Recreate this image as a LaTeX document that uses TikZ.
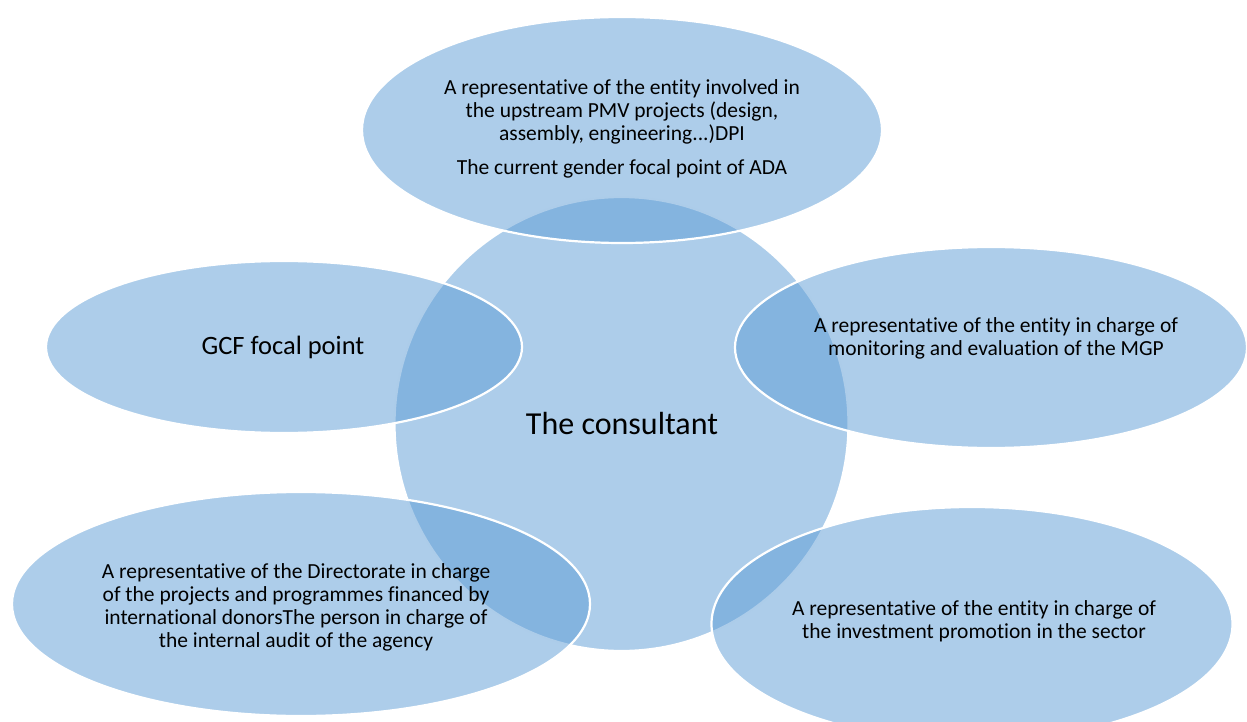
\documentclass[tikz,border=0pt]{standalone}
\usepackage{fontspec}
\setmainfont{Carlito}[Ligatures=NoCommon]
\definecolor{blobblue}{RGB}{91,155,213}
\tikzset{
  blob/.style={ellipse, draw=white, line width=2.2pt, fill=blobblue, fill opacity=0.5, draw opacity=1, inner sep=0pt},
  smalltxt/.style={align=center, text=black, font=\fontsize{21.5}{23}\selectfont, inner sep=0pt},
}
\usetikzlibrary{shapes.geometric}
\begin{document}
\begin{tikzpicture}[x=1pt,y=-1pt]
\useasboundingbox (0,0) rectangle (1247,722);
\clip (0,0) rectangle (1247,722);
\node[blob, circle, minimum size=454pt] (cons) at (621.5,424) {};
\node[blob, minimum width=520pt, minimum height=226pt] (top) at (622,130) {};
\node[blob, minimum width=476pt, minimum height=172pt] (gcf) at (284,347) {};
\node[blob, minimum width=512pt, minimum height=201pt] (mgp) at (991,347.5) {};
\node[blob, minimum width=578pt, minimum height=224pt] (dir) at (301,604) {};
\node[blob, minimum width=521pt, minimum height=234pt] (inv) at (972,624) {};
\node[align=center, font=\fontsize{32}{38}\selectfont, inner sep=0pt] (constxt) at (622,424) {The consultant};
\node[smalltxt] (toptxt) at (622,129) {A representative of the entity involved in\\the upstream PMV projects (design,\\assembly, engineering...)DPI\\[11pt]The current gender focal point of ADA};
\node[align=center, font=\fontsize{26.5}{30}\selectfont, inner sep=0pt] (gcftxt) at (283,347) {GCF focal point};
\node[smalltxt] (mgptxt) at (996,338) {A representative of the entity in charge of\\monitoring and evaluation of the MGP};
\node[smalltxt] (dirtxt) at (296,607) {A representative of the Directorate in charge\\of the projects and programmes financed by\\international donorsThe person in charge of\\the internal audit of the agency};
\node[smalltxt] (invtxt) at (974,621) {A representative of the entity in charge of\\the investment promotion in the sector};
\end{tikzpicture}
\end{document}
